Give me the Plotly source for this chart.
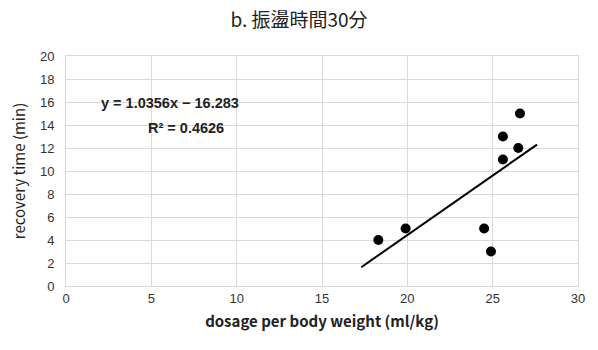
import plotly.graph_objects as go

dosage = [18.3, 19.9, 24.5, 24.9, 25.6, 25.6, 26.5, 26.6]
recovery = [4, 5, 5, 3, 13, 11, 12, 15]
slope = 1.0356
intercept = -16.283
trend_x = [17.3, 27.6]
trend_y = [slope * x + intercept for x in trend_x]

fig = go.Figure()
fig.add_trace(go.Scatter(x=trend_x, y=trend_y, mode="lines",
                         line=dict(color="black", width=2), showlegend=False))
fig.add_trace(go.Scatter(x=dosage, y=recovery, mode="markers",
                         marker=dict(color="black", size=10), showlegend=False))

fig.add_annotation(x=0.203, y=0.796, xref="paper", yref="paper", xanchor="center", yanchor="middle",
                   text="<b>y = 1.0356x − 16.283</b>", showarrow=False,
                   font=dict(size=14.5, color="#222", family="Liberation Sans"))
fig.add_annotation(x=0.234, y=0.687, xref="paper", yref="paper", xanchor="center", yanchor="middle",
                   text="<b>R² = 0.4626</b>", showarrow=False,
                   font=dict(size=14.5, color="#222", family="Liberation Sans"))

fig.update_layout(
    width=598, height=350,
    margin=dict(l=66, r=20, t=56, b=64, autoexpand=False),
    paper_bgcolor="white", plot_bgcolor="white",
    title=dict(text="b. 振盪時間30分", x=0.5, xanchor="center", y=0.943, yanchor="middle",
               font=dict(size=19, color="#222", family="Noto Sans CJK JP")),
    xaxis=dict(range=[0, 30], dtick=5, showgrid=True, gridcolor="#d9d9d9", gridwidth=1,
               zeroline=False, showline=True, linecolor="#d9d9d9", mirror=True,
               automargin=False,
               tickfont=dict(size=13, color="#333", family="Liberation Sans"),
               ticks="", ticklen=0,
               title=dict(text="<b>dosage per body weight (ml/kg)</b>", standoff=11,
                          font=dict(size=15, color="#222", family="Noto Sans CJK JP"))),
    yaxis=dict(range=[0, 20], dtick=2, showgrid=True, gridcolor="#d9d9d9", gridwidth=1,
               zeroline=False, showline=True, linecolor="#d9d9d9", mirror=True,
               automargin=False, ticklabelstandoff=8,
               tickfont=dict(size=13, color="#333", family="Liberation Sans"),
               ticks="", ticklen=0,
               title=dict(text="recovery time (min)", standoff=10,
                          font=dict(size=15, color="#222", family="Noto Sans CJK JP"))),
)

fig.write_html("out.html", config={"displayModeBar": False},
               post_script="document.body.style.margin='0';document.body.style.overflow='hidden';")
